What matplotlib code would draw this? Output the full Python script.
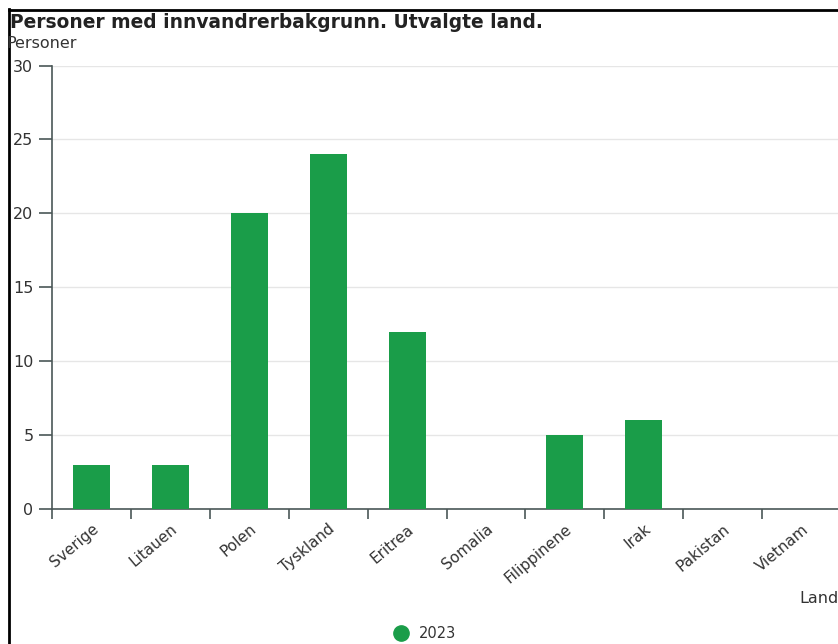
import matplotlib.pyplot as plt
from matplotlib.lines import Line2D
import numpy as np

# Data
land = ['Sverige', 'Litauen', 'Polen', 'Tyskland', 'Eritrea',
        'Somalia', 'Filippinene', 'Irak', 'Pakistan', 'Vietnam']
personer_2023 = [3, 3, 20, 24, 12, 0, 5, 6, 0, 0]
y_ticks = [0, 5, 10, 15, 20, 25, 30]

green = '#1a9d49'
axis_col = '#4a5757'
text_col = '#333333'

# the original is a bit stretched sideways, DejaVu is a wider face
plt.rcParams['font.family'] = ['DejaVu Sans']

fig = plt.figure(figsize=(8.38, 6.44), dpi=100)
# axes run a bit past the right edge, like the cropped original
ax = fig.add_axes([52 / 838, 135 / 644, 789 / 838, 443.5 / 644])

x = np.arange(len(land))
ax.bar(x, personer_2023, width=0.47, color=green, zorder=3)

ax.set_xlim(-0.5, len(land) - 0.5)
ax.set_ylim(0, 30)
ax.set_yticks(y_ticks)
ax.yaxis.grid(True, color='#e6e6e6', linewidth=1, zorder=0)

# ticks between categories, labels at centres
ax.set_xticks(np.arange(-0.5, len(land) + 0.5, 1))
ax.set_xticklabels([])
ax.set_xticks(x, minor=True)
ax.set_xticklabels(land, minor=True, rotation=40, ha='right',
                   rotation_mode='anchor', fontsize=11, color=text_col)
ax.tick_params(axis='x', which='major', length=7.2, width=1.2, color=axis_col)
ax.tick_params(axis='x', which='minor', length=0, pad=9)
ax.tick_params(axis='y', length=9.4, width=1.2, color=axis_col, pad=4,
               labelsize=11.5, labelcolor=text_col)

for side in ['top', 'right']:
    ax.spines[side].set_visible(False)
for side in ['left', 'bottom']:
    ax.spines[side].set_color(axis_col)
    ax.spines[side].set_linewidth(1.2)
ax.spines['left'].set_bounds(0, 30)

fig.text(10 / 838, 1 - 28 / 644, 'Personer med innvandrerbakgrunn. Utvalgte land.',
         fontsize=13.4, fontweight='bold', color='#222222', va='baseline')
fig.text(6 / 838, 1 - 48 / 644, 'Personer', fontsize=11.5, color=text_col,
         va='baseline')
fig.text(799 / 838, 1 - 603 / 644, 'Land', fontsize=11.5, color=text_col,
         va='baseline')

# legend
handle = Line2D([], [], marker='o', linestyle='', markersize=11,
                markerfacecolor=green, markeredgecolor=green)
fig.legend([handle], ['2023'], loc='center', bbox_to_anchor=(421 / 838, 1 - 634 / 644),
           frameon=False, fontsize=10.5, handletextpad=0.25, labelcolor=text_col)

# frame lines at top and left
fig.add_artist(Line2D([9 / 838, 9 / 838], [0, 1 - 9 / 644], color='black',
                      linewidth=2, transform=fig.transFigure))
fig.add_artist(Line2D([9 / 838, 1], [1 - 10 / 644, 1 - 10 / 644], color='black',
                      linewidth=2, transform=fig.transFigure))

fig.savefig('out.png', dpi=100)
